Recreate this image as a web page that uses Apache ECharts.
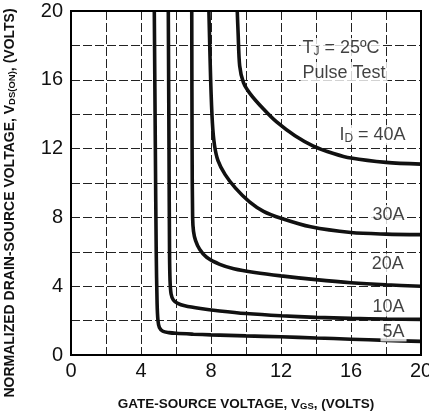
<!DOCTYPE html>
<html>
<head>
<meta charset="utf-8">
<script src="https://cdn.jsdelivr.net/npm/echarts@6/dist/echarts.min.js"></script>
<style>
html,body{margin:0;padding:0;background:#fff;}
#c{width:429px;height:412px;}
</style>
</head>
<body>
<div id="c"></div>
<script>
// Data
const xTicks = [0, 4, 8, 12, 16, 20];
const yTicks = [0, 4, 8, 12, 16, 20];

const curve5A = [[4.76,20],[4.82,12],[4.87,6],[4.92,3],[4.97,2.0],[5.05,1.6],[5.25,1.38],[5.6,1.3],[6.0,1.26],[7,1.21],[8,1.17],[10,1.11],[12,1.06],[14,0.99],[16,0.92],[18,0.85],[20,0.79]];
const curve10A = [[5.56,20],[5.6,12],[5.63,6],[5.66,4.3],[5.72,3.55],[5.85,3.2],[6.1,3.0],[6.5,2.86],[7.4,2.7],[8.5,2.56],[10,2.41],[12,2.28],[14,2.19],[16,2.13],[18,2.09],[20,2.07]];
const curve20A = [[6.9,20],[6.92,12],[6.95,8],[7.0,7.2],[7.12,6.65],[7.35,6.15],[7.75,5.68],[8.5,5.27],[9.3,5.02],[10.5,4.8],[12,4.6],[14,4.38],[16,4.2],[18,4.08],[20,4.0]];
const curve30A = [[7.88,20],[7.98,16],[8.08,13.5],[8.2,12.2],[8.4,11.3],[8.8,10.5],[9.4,9.7],[10.2,8.9],[11,8.35],[12,7.95],[13.7,7.45],[16,7.12],[18,7.03],[20,7.0]];
const curve40A = [[9.5,20],[9.55,18.7],[9.64,16.8],[9.85,15.85],[10.23,15.2],[11,14.3],[11.75,13.55],[12.8,12.75],[13.85,12.15],[15,11.72],[16,11.45],[18,11.2],[20,11.1]];

const labelTexts = ['{n|T}{s|J}{n| = 25ºC}', '{n|Pulse Test}', '{n|I}{s|D}{n| = 40A}', '{n|30A}', '{n|20A}', '{n|10A}', '{n|5A}'];
const labelAnchors = [[15.43,17.85],[15.6,16.45],[17.23,12.79],[18.14,8.14],[18.1,5.32],[18.14,2.82],[18.43,1.37]];

const chart = echarts.init(document.getElementById('c'), null, {renderer:'canvas'});
const FONT = '"Liberation Sans", Arial, sans-serif';

const lineStyle = {color:'#111', width:3.6};
function curveSeries(name, data){
  return {name, type:'line', data, showSymbol:false, symbol:'none', smooth:0.3,
    lineStyle, clip:true, z:3, animation:false};
}

const rich = {
  n:{fontFamily:FONT, fontSize:18, color:'#111', lineHeight:19},
  s:{fontFamily:FONT, fontSize:12, color:'#111', verticalAlign:'bottom', padding:[6,0,0,0], lineHeight:19}
};

chart.setOption({
  animation:false,
  backgroundColor:'#fff',
  grid:{left:71, right:8, top:11, bottom:57, containLabel:false, outerBoundsMode:'none',
    show:true, borderColor:'#000', borderWidth:2, backgroundColor:'transparent', z:4},
  xAxis:{
    type:'value', min:0, max:20, interval:2,
    axisLine:{show:true, onZero:false, lineStyle:{color:'#000', width:2}},
    axisTick:{show:false},
    axisLabel:{fontFamily:FONT, fontSize:20, color:'#111', margin:6, hideOverlap:false,
      formatter:v => xTicks.indexOf(v) >= 0 ? String(v) : ''},
    splitLine:{show:true, lineStyle:{color:'#222', width:1, type:[9,3]}},
    name:'GATE-SOURCE VOLTAGE, V{sub|GS}, (VOLTS)',
    nameLocation:'middle', nameGap:42,
    nameTextStyle:{fontFamily:FONT, fontSize:13.5, fontWeight:'bold', color:'#111',
      rich:{sub:{fontFamily:FONT, fontSize:9.5, fontWeight:'bold', color:'#111', verticalAlign:'bottom', padding:[4,0,0,0]}}}
  },
  yAxis:{
    type:'value', min:0, max:20, interval:2,
    axisLine:{show:true, onZero:false, lineStyle:{color:'#000', width:2}},
    axisTick:{show:false},
    axisLabel:{fontFamily:FONT, fontSize:20, color:'#111', margin:8, hideOverlap:false,
      formatter:v => yTicks.indexOf(v) >= 0 ? String(v) : ''},
    splitLine:{show:true, lineStyle:{color:'#222', width:1, type:[9,3]}}
  },
  graphic:[{
    type:'text', x:10, y:203, rotation:Math.PI/2, z:10,
    style:{
      text:'NORMALIZED DRAIN-SOURCE VOLTAGE, V{sub|DS(ON)}, (VOLTS)',
      x:0, y:0, align:'center', verticalAlign:'middle',
      font:'bold 14px ' + FONT, fill:'#111',
      rich:{sub:{fontFamily:FONT, fontSize:9.5, fontWeight:'bold', fill:'#111', verticalAlign:'bottom', padding:[4,0,0,0]}}
    }
  }],
  series:[
    curveSeries('5A', curve5A),
    curveSeries('10A', curve10A),
    curveSeries('20A', curve20A),
    curveSeries('30A', curve30A),
    curveSeries('40A', curve40A),
    {
      type:'scatter', symbolSize:0, z:5, animation:false, silent:true,
      data: labelAnchors.map((p,i)=>({value:p, label:{formatter:labelTexts[i]}})),
      label:{show:true, position:'inside', backgroundColor:'#fff', padding:[1,2,0,2], rich}
    }
  ]
});
</script>
</body>
</html>
